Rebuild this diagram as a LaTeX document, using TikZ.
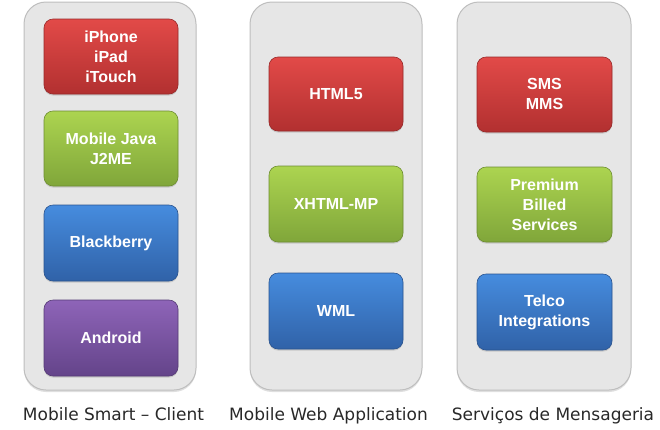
\documentclass[tikz,border=0pt]{standalone}
\usepackage{fontspec}
\setmainfont{DejaVu Sans}
\newfontfamily\boxfont{Liberation Sans}
\usetikzlibrary{shadows}
\definecolor{redT}{RGB}{226,74,72}
\definecolor{redB}{RGB}{178,48,48}
\definecolor{grnT}{RGB}{172,212,80}
\definecolor{grnB}{RGB}{128,166,58}
\definecolor{bluT}{RGB}{70,140,222}
\definecolor{bluB}{RGB}{48,98,168}
\definecolor{purT}{RGB}{142,100,184}
\definecolor{purB}{RGB}{100,68,138}
\definecolor{panelfill}{RGB}{230,230,230}
\definecolor{panelline}{RGB}{190,190,190}
\definecolor{labeltext}{RGB}{40,40,40}
\tikzset{
  panel/.style={draw=panelline, line width=1pt, fill=panelfill, rounded corners=22pt,
    drop shadow={shadow xshift=0pt, shadow yshift=-2pt, opacity=0.25}},
  tile/.style={rounded corners=9pt, draw=#1B!85!black, line width=0.6pt,
    top color=#1T, bottom color=#1B,
    drop shadow={shadow xshift=0pt, shadow yshift=-1.5pt, opacity=0.3}},
  tiletext/.style={text=white, font=\boxfont\bfseries\fontsize{16}{20}\selectfont, align=center},
  caption/.style={text=labeltext, font=\fontsize{17}{20}\selectfont, anchor=base}
}
\begin{document}
\begin{tikzpicture}[x=1pt,y=-1pt]
\useasboundingbox (0,0) rectangle (660,429);
% panels
\draw[panel] (24,2) rectangle (196,390);
\draw[panel] (250,2) rectangle (422,390);
\draw[panel] (457,2) rectangle (631,390);
% column 1
\path[tile=red] (44,19) rectangle (178,94);
\node[tiletext] (t1) at (111,57) {iPhone\\iPad\\iTouch};
\path[tile=grn] (44,111) rectangle (178,186);
\node[tiletext] (t2) at (111,149) {Mobile Java\\J2ME};
\path[tile=blu] (44,205) rectangle (178,281);
\node[tiletext] (t3) at (111,243) {Blackberry};
\path[tile=pur] (44,300) rectangle (178,376);
\node[tiletext] (t4) at (111,338) {Android};
% column 2
\path[tile=red] (269,57) rectangle (403,131);
\node[tiletext] (t5) at (336,94) {HTML5};
\path[tile=grn] (269,166) rectangle (403,242);
\node[tiletext] (t6) at (336,204) {XHTML-MP};
\path[tile=blu] (269,273) rectangle (403,349);
\node[tiletext] (t7) at (336,311) {WML};
% column 3
\path[tile=red] (477,57) rectangle (612,132);
\node[tiletext] (t8) at (544.5,94) {SMS\\MMS};
\path[tile=grn] (477,167) rectangle (612,242);
\node[tiletext] (t9) at (544.5,204.5) {Premium\\Billed\\Services};
\path[tile=blu] (477,274) rectangle (612,350);
\node[tiletext] (t10) at (544.5,312) {Telco\\Integrations};
% captions
\node[caption] (c1) at (113.5,420) {Mobile Smart – Client};
\node[caption] (c2) at (328.5,420) {Mobile Web Application};
\node[caption] (c3) at (553,420) {Serviços de Mensageria};
\end{tikzpicture}
\end{document}
